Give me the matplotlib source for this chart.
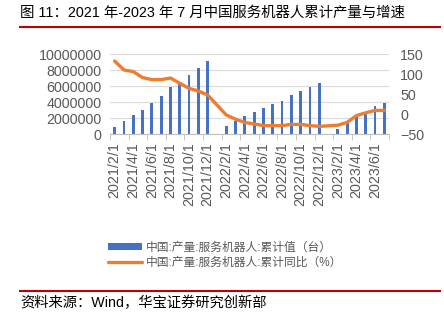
import matplotlib
matplotlib.use('Agg')
import matplotlib.pyplot as plt
import numpy as np

plt.rcParams['font.family'] = ['Liberation Sans', 'Noto Sans CJK SC', 'DejaVu Sans']

months = ['2021/2/1', '2021/3/1', '2021/4/1', '2021/5/1', '2021/6/1', '2021/7/1',
          '2021/8/1', '2021/9/1', '2021/10/1', '2021/11/1', '2021/12/1', '2022/1/1',
          '2022/2/1', '2022/3/1', '2022/4/1', '2022/5/1', '2022/6/1', '2022/7/1',
          '2022/8/1', '2022/9/1', '2022/10/1', '2022/11/1', '2022/12/1', '2023/1/1',
          '2023/2/1', '2023/3/1', '2023/4/1', '2023/5/1', '2023/6/1', '2023/7/1']

# cumulative output (units), January has no data
cum_units = [920000, 1600000, 2330000, 3000000, 3830000, 4750000, 5830000, 6500000,
             7330000, 8250000, 9120000, np.nan,
             1000000, 1600000, 2250000, 2750000, 3250000, 3700000, 4080000, 4830000,
             5330000, 5870000, 6330000, np.nan,
             620000, 1330000, 2170000, 2580000, 3500000, 3920000]

# cumulative yoy (%)
cum_yoy = [132.5, 110, 106, 91, 86, 86, 90, 77, 64, 57.5, 47.5, np.nan,
           -2.5, -13, -21, -25, -29, -29, -29, -26, -26, -29, -31, np.nan,
           -28, -21, -4, 3, 9, 9]

label_bar = '中国:产量:服务机器人:累计值（台）'
label_line = '中国:产量:服务机器人:累计同比（%）'
title = '图 11：2021 年-2023 年 7 月中国服务机器人累计产量与增速'
source = '资料来源：Wind，华宝证券研究创新部'

gray = '#595959'
blue = '#4472C4'
orange = '#ED7D31'
red = '#C00000'

fig = plt.figure(figsize=(4.44, 3.22), dpi=100)
ax = fig.add_axes([110 / 444, 1 - 134 / 322, 279 / 444, 80 / 322])
ax2 = ax.twinx()

x = np.arange(len(months))
units = np.array(cum_units, dtype=float)
yoy = np.array(cum_yoy, dtype=float)
mb = ~np.isnan(units)
ml = ~np.isnan(yoy)

bars = ax.bar(x[mb], units[mb], width=0.3, color=blue, zorder=2)
line, = ax2.plot(x[ml], yoy[ml], color=orange, lw=2.4, solid_capstyle='round', zorder=3)

ax.set_xlim(-0.5, len(months) - 0.5)
ax.set_ylim(0, 10000000)
ax.set_yticks(np.arange(0, 10000001, 2000000))
ax.yaxis.set_major_formatter(matplotlib.ticker.FuncFormatter(lambda v, p: '%d' % v))
ax2.set_ylim(-50, 150)
ax2.set_yticks([-50, 0, 50, 100, 150])

ax.grid(axis='y', color='#D9D9D9', lw=0.8, zorder=0)
ax.set_axisbelow(True)

for a in (ax, ax2):
    for s in ('top', 'left', 'right'):
        a.spines[s].set_visible(False)
    a.spines['bottom'].set_color('#BFBFBF')
    a.tick_params(axis='y', length=0, labelsize=10.3, labelcolor=gray)
ax2.spines['bottom'].set_visible(False)
ax.tick_params(axis='y', pad=6)
ax2.tick_params(axis='y', pad=8)

ax.set_xticks(x[::2])
ax.set_xticklabels(months[::2], rotation=90, fontsize=10.3, color=gray)
ax.tick_params(axis='x', which='major', length=0, pad=6)
ax.set_xticks(np.arange(-0.5, len(months), 2), minor=True)
ax.tick_params(axis='x', which='minor', length=4, color='#BFBFBF')

fig.legend([bars, line], [label_bar, label_line], loc='upper left',
           bbox_to_anchor=(97 / 444, 1 - 231 / 322), frameon=False,
           fontsize=8.5, labelcolor=gray, handlelength=2.9, handleheight=0.6,
           handletextpad=0.35, labelspacing=0.3)

fig.text(20 / 444, 1 - 13 / 322, title, fontsize=10.4, va='center', ha='left')
fig.add_artist(plt.Line2D([20 / 444, 440 / 444], [1 - 27 / 322] * 2, color=red, lw=1.5))
fig.add_artist(plt.Line2D([20 / 444, 440 / 444], [1 - 291 / 322] * 2, color=red, lw=1.5))
fig.text(20 / 444, 1 - 303 / 322, source, fontsize=10.3, va='center', ha='left')

fig.savefig('out.png', dpi=100)
plt.close(fig)
